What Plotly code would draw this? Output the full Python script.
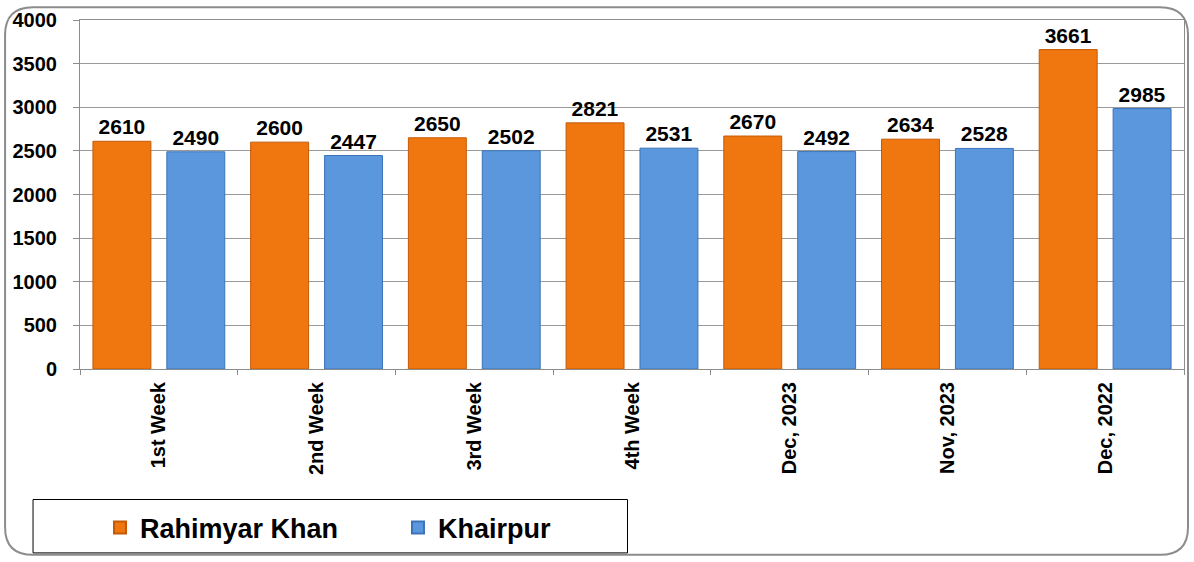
import plotly.graph_objects as go

categories = ["1st Week", "2nd Week", "3rd Week", "4th Week", "Dec, 2023", "Nov, 2023", "Dec, 2022"]
rahimyar_khan = [2610, 2600, 2650, 2821, 2670, 2634, 3661]
khairpur = [2490, 2447, 2502, 2531, 2492, 2528, 2985]

W, H = 1194, 562
L, R, T, B = 80, 9, 16, 193
pw, ph = W - L - R, H - T - B


def px(x):
    return (x - L) / pw


def py(y):
    return (H - B - y) / ph


bold = dict(family="Liberation Sans, Arial", color="black", weight="bold")

fig = go.Figure()
fig.add_trace(go.Bar(
    x=categories, y=rahimyar_khan, name="Rahimyar Khan",
    marker=dict(color="#F0770F", line=dict(color="#C45A05", width=1)),
    text=rahimyar_khan, textposition="outside", cliponaxis=False,
    textfont=dict(size=21, **bold),
))
fig.add_trace(go.Bar(
    x=categories, y=khairpur, name="Khairpur",
    marker=dict(color="#5A97DD", line=dict(color="#3D74B8", width=1)),
    text=khairpur, textposition="outside", cliponaxis=False,
    textfont=dict(size=21, **bold),
))

# rounded outer frame
x0, x1, y0, y1, r = 5, 1189, 3, 557, 28
path = (
    f"M {px(x0 + r)} {py(y0)} L {px(x1 - r)} {py(y0)} "
    f"Q {px(x1)} {py(y0)} {px(x1)} {py(y0 + r)} "
    f"L {px(x1)} {py(y1 - r)} Q {px(x1)} {py(y1)} {px(x1 - r)} {py(y1)} "
    f"L {px(x0 + r)} {py(y1)} Q {px(x0)} {py(y1)} {px(x0)} {py(y1 - r)} "
    f"L {px(x0)} {py(y0 + r)} Q {px(x0)} {py(y0)} {px(x0 + r)} {py(y0)} Z"
)
fig.add_shape(type="path", path=path, xref="paper", yref="paper",
              line=dict(color="#8C8C8C", width=2), layer="below")
# legend box
fig.add_shape(type="rect", xref="paper", yref="paper",
              x0=px(33), x1=px(628), y0=py(501), y1=py(555),
              line=dict(color="black", width=1))

fig.update_layout(
    width=W, height=H,
    margin=dict(l=L, r=R, t=T, b=B),
    paper_bgcolor="white", plot_bgcolor="white",
    barmode="group", bargap=0.063, bargroupgap=0.216,
    showlegend=True,
    legend=dict(
        orientation="h", x=px(100), y=py(505), xanchor="left", yanchor="top",
        font=dict(size=27, **bold), entrywidth=253, entrywidthmode="pixels",
        itemsizing="constant", bgcolor="rgba(0,0,0,0)",
    ),
    font=dict(family="Liberation Sans, Arial", color="black"),
)
fig.update_xaxes(
    showline=True, linecolor="#8C8C8C", linewidth=1, mirror=True,
    ticks="outside", tickson="boundaries", ticklen=5, tickcolor="#8C8C8C",
    tickangle=-90, tickfont=dict(size=20, **bold), ticklabelstandoff=4,
)
fig.update_yaxes(
    range=[0, 4000], dtick=500,
    showline=True, linecolor="#8C8C8C", linewidth=1, mirror=True,
    ticks="outside", ticklen=6, tickcolor="#8C8C8C",
    gridcolor="#9A9A9A", gridwidth=1,
    tickfont=dict(size=20, **bold), ticklabelstandoff=12,
)

fig.write_html("out.html", config={"displayModeBar": False},
               post_script="document.body.style.margin='0';")
